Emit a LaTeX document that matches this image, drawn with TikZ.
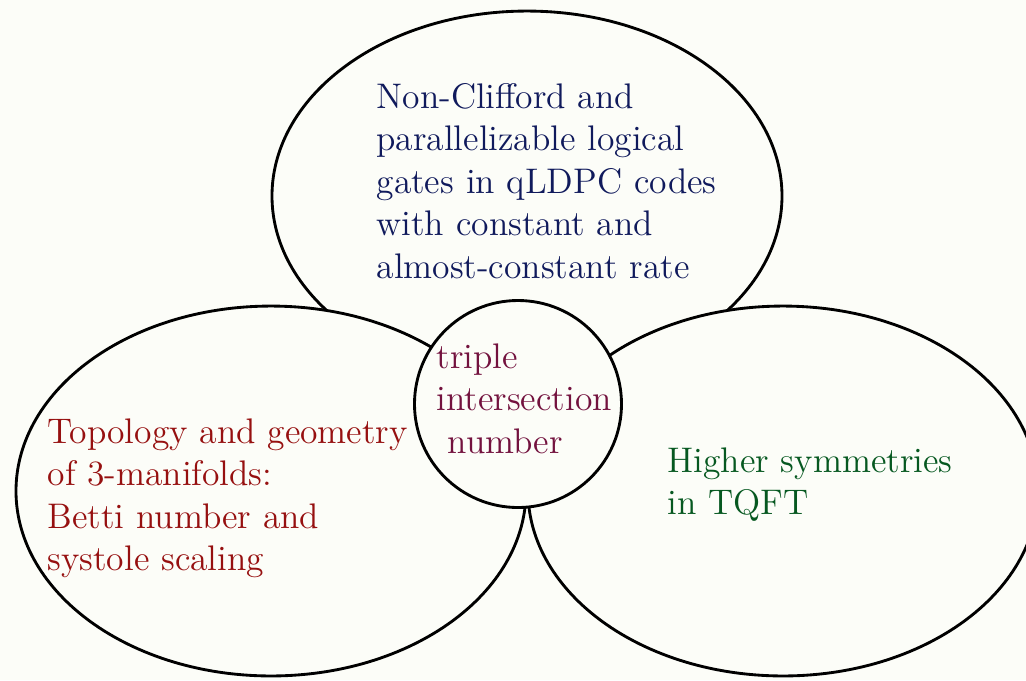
\documentclass[tikz,border=0pt]{standalone}
\usetikzlibrary{shapes.geometric}
\definecolor{bg}{RGB}{252,253,248}
\definecolor{navytxt}{RGB}{16,26,92}
\definecolor{redtxt}{RGB}{150,16,16}
\definecolor{greentxt}{RGB}{6,88,32}
\definecolor{maroontxt}{RGB}{115,18,62}
\begin{document}
\begin{tikzpicture}[x=0.33333pt,y=-0.33333pt,
  blob/.style={ellipse, draw=black, fill=bg, line width=0.95pt,
    minimum width=170pt, minimum height=123.3pt, inner sep=0pt},
  hub/.style={circle, draw=black, fill=bg, line width=0.95pt,
    minimum size=69pt, inner sep=0pt},
  txt/.style={anchor=base west, inner sep=0pt, align=left,
    font=\fontsize{11.85}{14.17}\selectfont}]
\fill[bg] (0,0) rectangle (1026,680);
\useasboundingbox (0,0) rectangle (1026,680);
\clip (0,0) rectangle (1026,680);
\node[blob] (etop) at (527,196) {};
\node[blob] (eleft) at (271,491) {};
\node[blob] (eright) at (783,491) {};
\node[hub] (hub) at (518,404) {};
\node[txt, text width=140pt, text=navytxt] (ttop) at (376,108)
  {Non-Clifford and\\parallelizable logical\\gates in qLDPC codes\\with constant and\\almost-constant rate};
\node[txt, text width=130pt, text=redtxt] (tleft) at (47,443)
  {Topology and geometry\\of 3-manifolds:\\Betti number and\\systole scaling};
\node[txt, text width=115pt, text=greentxt] (tright) at (667,472)
  {Higher symmetries\\in TQFT};
\node[txt, text width=68pt, text=maroontxt] (thub) at (436,368)
  {triple\\intersection\\\hspace*{3.7pt}number};
\end{tikzpicture}
\end{document}
